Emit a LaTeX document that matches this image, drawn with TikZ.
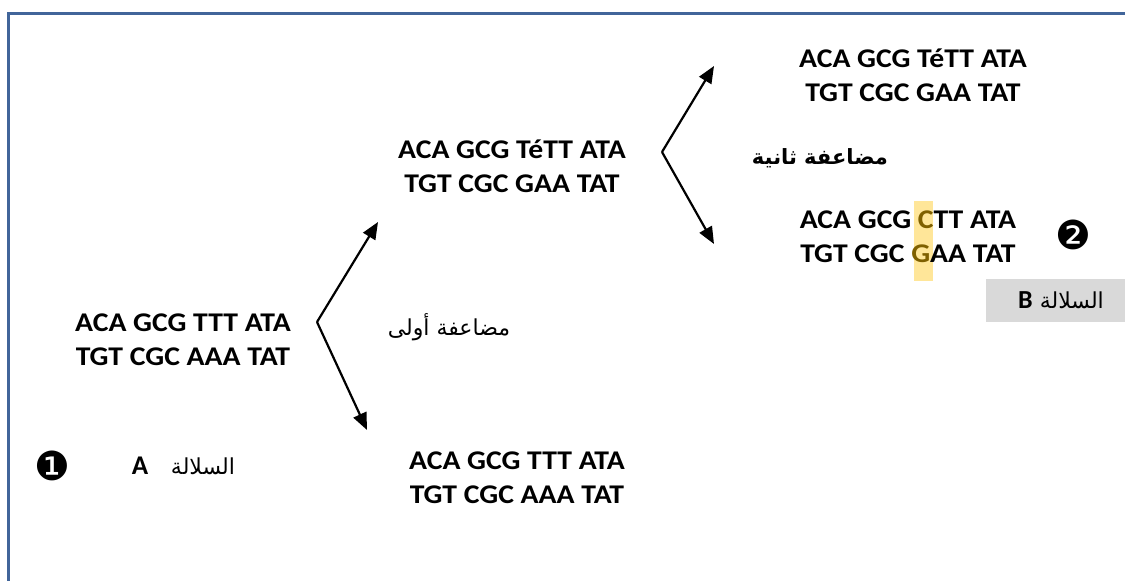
\documentclass[tikz,border=0pt]{standalone}
\usepackage{fontspec}
\setmainfont{Carlito}
\newfontfamily\dnafont[FakeStretch=1.1]{Carlito}
\newfontfamily\arabicfont[Script=Arabic]{DejaVu Sans}
\newfontfamily\symfont{DejaVu Sans}
\usetikzlibrary{arrows.meta}
\TeXXeTstate=1
\definecolor{framecol}{HTML}{41659A}
\definecolor{hilite}{HTML}{FFE699}
\definecolor{darkgold}{HTML}{7F6000}
\definecolor{boxgray}{HTML}{D9D9D9}
\begin{document}
\begin{tikzpicture}[x=1pt,y=-1pt,
  dna/.style={align=center,inner sep=0pt,font=\fontsize{27}{34}\dnafont\bfseries},
  arlabel/.style={inner sep=0pt,font=\fontsize{22}{24}\arabicfont},
  arbold/.style={inner sep=0pt,font=\fontsize{21}{24}\arabicfont\bfseries},
  numcirc/.style={inner sep=0pt,font=\fontsize{40}{40}\symfont},
  arr/.style={line width=2.2pt,-{Triangle[length=17pt,width=14pt]}}]
\useasboundingbox (0,0) rectangle (1125,581);
% frame
\draw[framecol,line width=3pt] (8,581) -- (8,13) -- (1125,13);
% highlight
\fill[hilite] (914,201) rectangle (933,281);
% gray box
\fill[boxgray] (986,279) rectangle (1125,322);
% DNA nodes
\node[dna] (p) at (183,340) {ACA GCG TTT ATA\\TGT CGC AAA TAT};
\node[dna] (m1) at (512,166) {ACA GCG TéTT ATA\\TGT CGC GAA TAT};
\node[dna] (m2) at (517,478) {ACA GCG TTT ATA\\TGT CGC AAA TAT};
\node[dna] (r1) at (913,75) {ACA GCG TéTT ATA\\TGT CGC GAA TAT};
\node[dna] (r2) at (908,237) {ACA GCG \textcolor{darkgold}{C}TT ATA\\TGT CGC \textcolor{darkgold}{G}AA TAT};
% labels
\node[arlabel] (d1) at (449,327) {\beginR مضاعفة أولى\endR};
\node[arbold] (d2) at (820,158) {\beginR مضاعفة ثانية\endR};
\node[numcirc] (n1) at (52,466) {❶};
\node[numcirc] (n2) at (1073,235) {❷};
\node[inner sep=0pt,font=\fontsize{27}{27}\selectfont\bfseries] (la) at (140,466) {A};
\node[arlabel] (sa) at (203,466) {\beginR السلالة\endR};
\node[inner sep=0pt] (sb) at (1061,300) {\fontsize{22}{24}\arabicfont\beginR السلالة\ {\fontsize{26}{26}\selectfont\rmfamily\bfseries\beginL B\endL}\endR};
% arrows
\coordinate (v1) at (317,322);
\coordinate (t1a) at (378,222);
\coordinate (t1b) at (367,430);
\coordinate (v2) at (662,152);
\coordinate (t2a) at (714,66);
\coordinate (t2b) at (714,244);
\draw[arr] (v1) -- (t1a);
\draw[arr] (v1) -- (t1b);
\draw[arr] (v2) -- (t2a);
\draw[arr] (v2) -- (t2b);
\end{tikzpicture}
\end{document}
